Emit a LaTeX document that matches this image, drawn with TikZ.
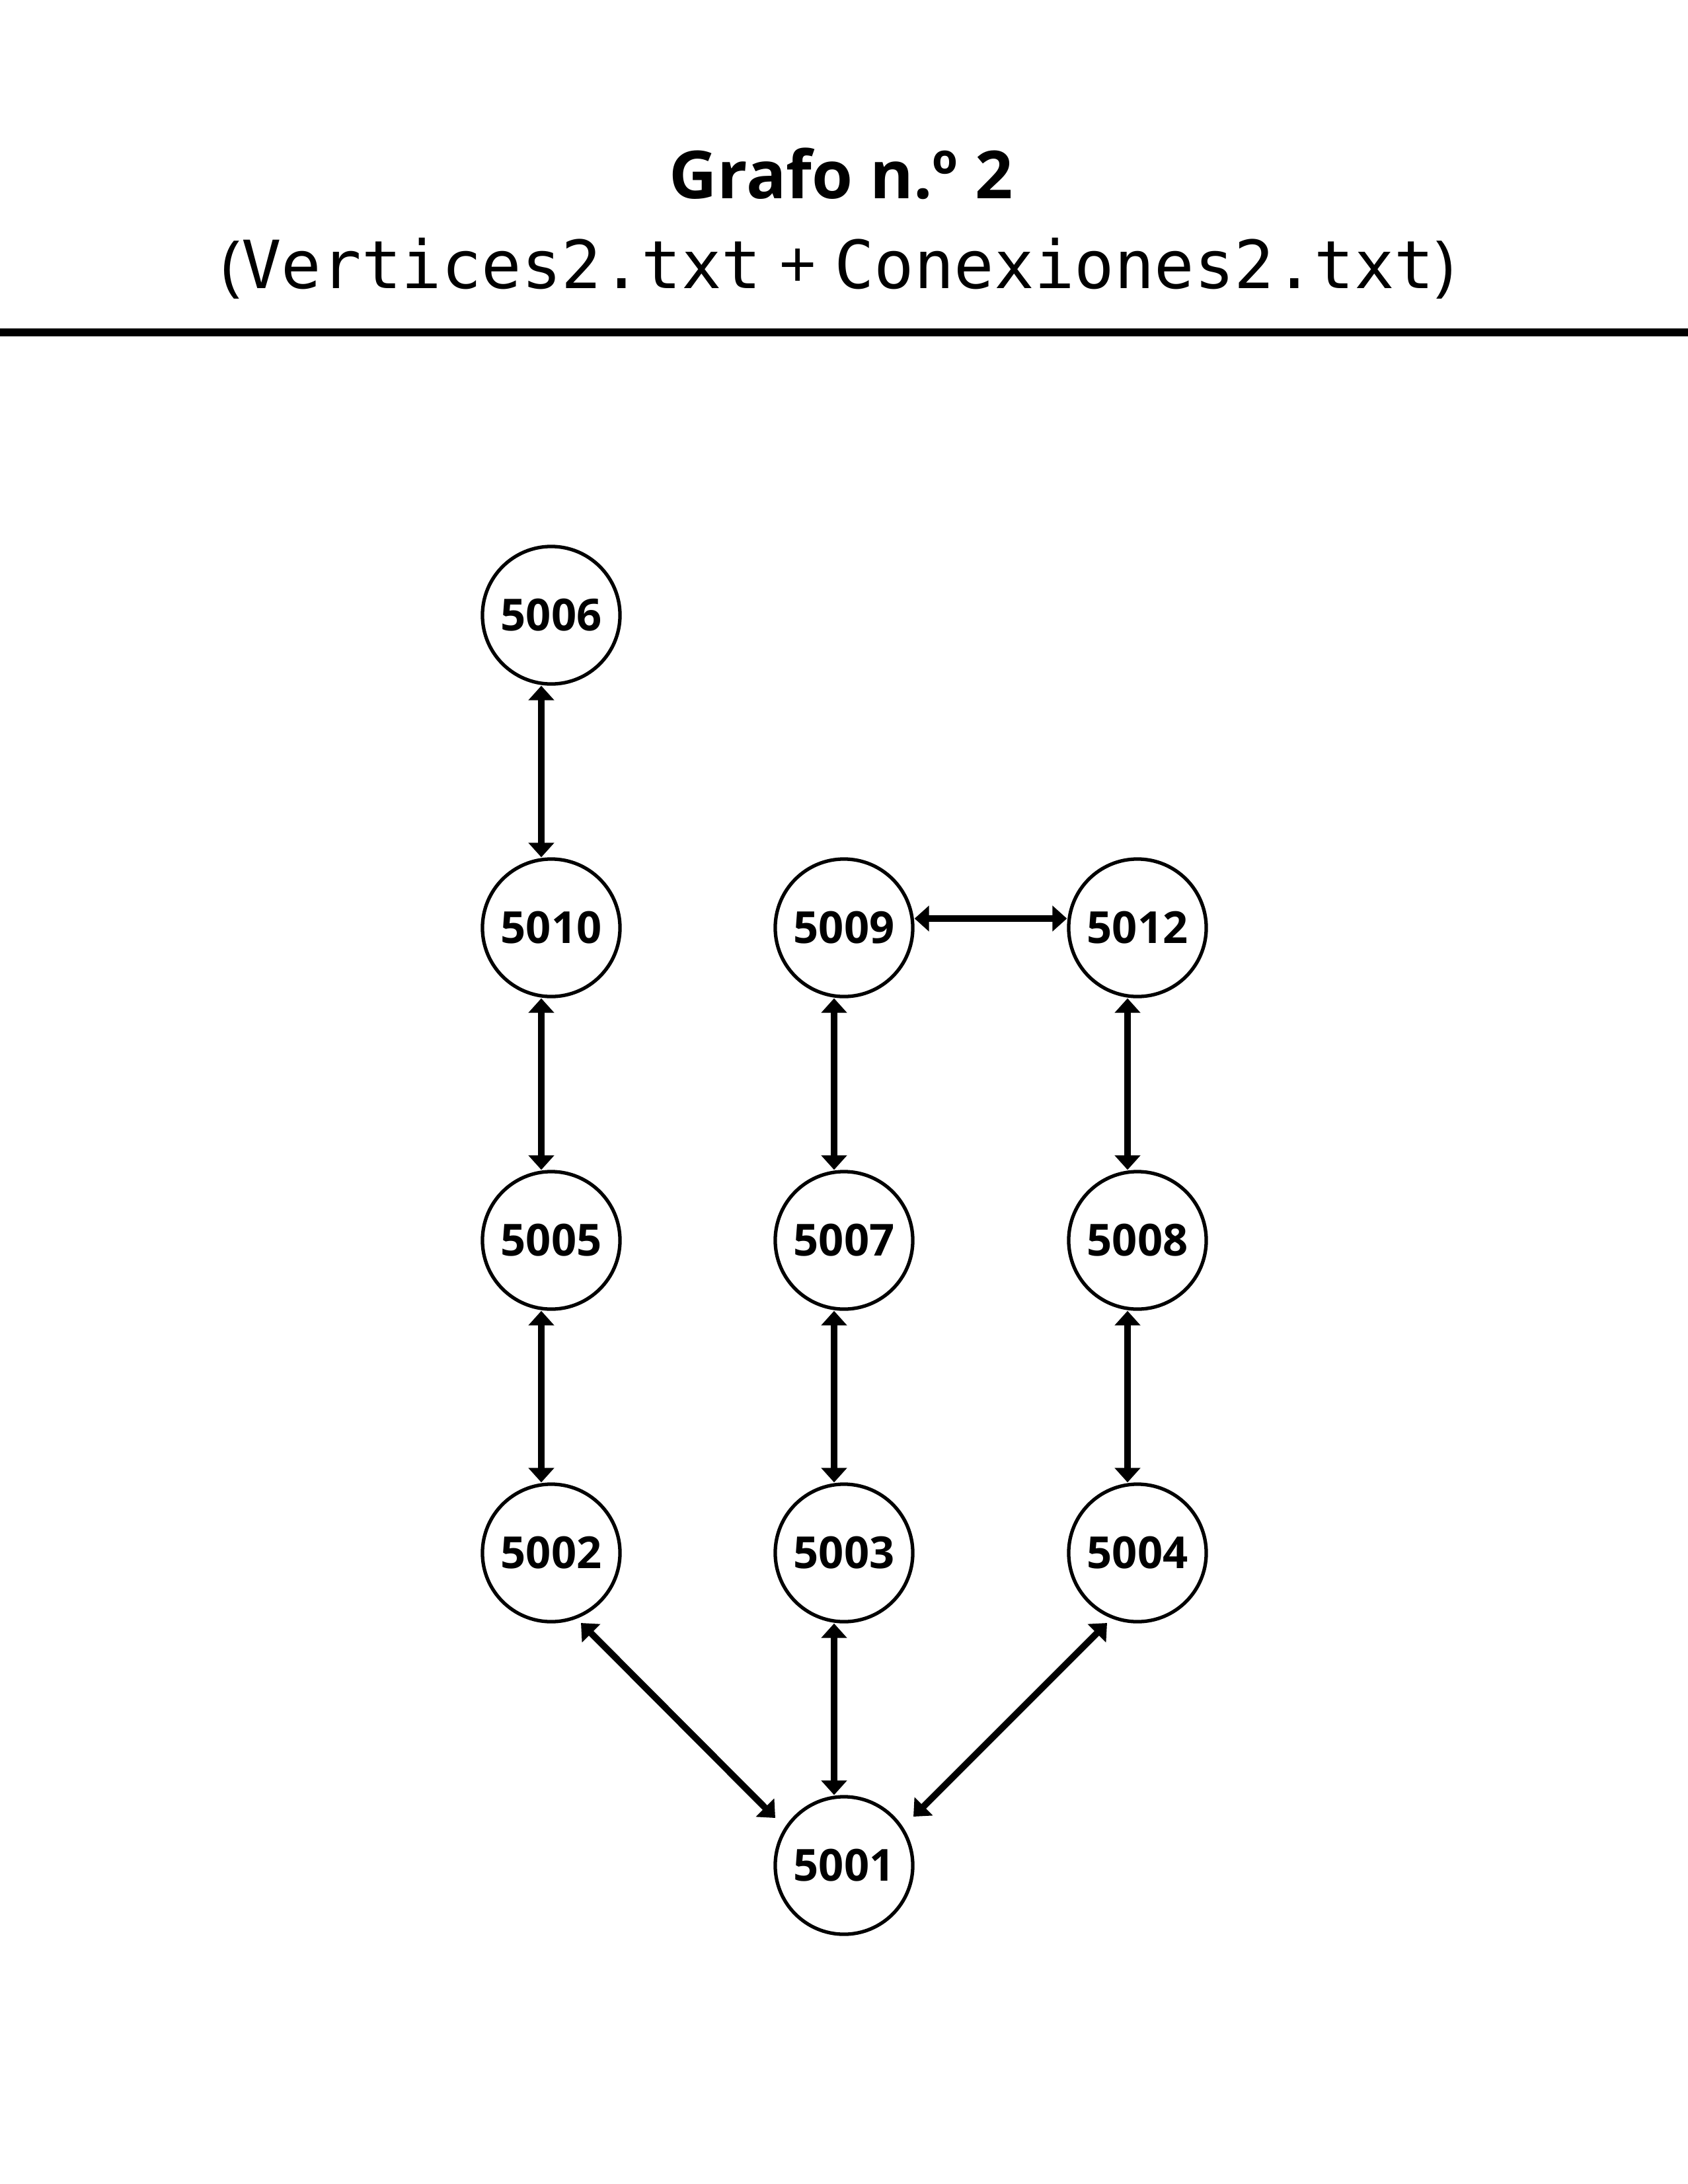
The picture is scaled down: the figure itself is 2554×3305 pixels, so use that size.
\documentclass[tikz,border=0pt]{standalone}
\usepackage{fontspec}
\setmainfont{Open Sans}
\newfontfamily\codefont{DejaVu Sans Mono}
\usetikzlibrary{arrows.meta}

\begin{document}
\begin{tikzpicture}[x=0.01cm, y=-0.01cm,
  vertex/.style={circle, draw, line width=1.5pt, minimum size=2.08cm, inner sep=0pt,
    font=\fontsize{19}{22}\selectfont\bfseries},
  link/.style={{Triangle[length=0.22cm,width=0.38cm]}-{Triangle[length=0.22cm,width=0.38cm]},
    line width=2.8pt}]
\useasboundingbox (0,0) rectangle (2554,3305);

% titulo
\node[anchor=base, font=\fontsize{28.5}{34}\selectfont\bfseries] (titulo) at (1273,300) {Grafo n.º 2};
\node[anchor=base, font=\fontsize{28.6}{33}\selectfont] (archivos) at (1268,436)
  {({\codefont Vertices2.txt} + {\codefont Conexiones2.txt})};
\draw[line width=0.12cm] (0,503) -- (2554,503);

% vertices
\node[vertex] (v5006) at (834,931) {5006};
\node[vertex] (v5010) at (834,1404) {5010};
\node[vertex] (v5005) at (834,1877) {5005};
\node[vertex] (v5002) at (834,2350) {5002};
\node[vertex] (v5009) at (1277,1404) {5009};
\node[vertex] (v5007) at (1277,1877) {5007};
\node[vertex] (v5003) at (1277,2350) {5003};
\node[vertex] (v5001) at (1277,2823) {5001};
\node[vertex] (v5012) at (1721,1404) {5012};
\node[vertex] (v5008) at (1721,1877) {5008};
\node[vertex] (v5004) at (1721,2350) {5004};

% conexiones
\foreach \a/\b in {v5006/v5010, v5010/v5005, v5005/v5002,
                   v5009/v5007, v5007/v5003, v5003/v5001,
                   v5012/v5008, v5008/v5004}
  \draw[link] ([shift={(-15,0)}]\a.south) -- ([shift={(-15,0)}]\b.north);
\draw[link] ([shift={(0,-14)}]v5009.east) -- ([shift={(0,-14)}]v5012.west);
\draw[link] ([shift={(45,106)}]v5002.center) -- ([shift={(-104,-72)}]v5001.center);
\draw[link] ([shift={(-46,106)}]v5004.center) -- ([shift={(105,-74)}]v5001.center);
\end{tikzpicture}
\end{document}
